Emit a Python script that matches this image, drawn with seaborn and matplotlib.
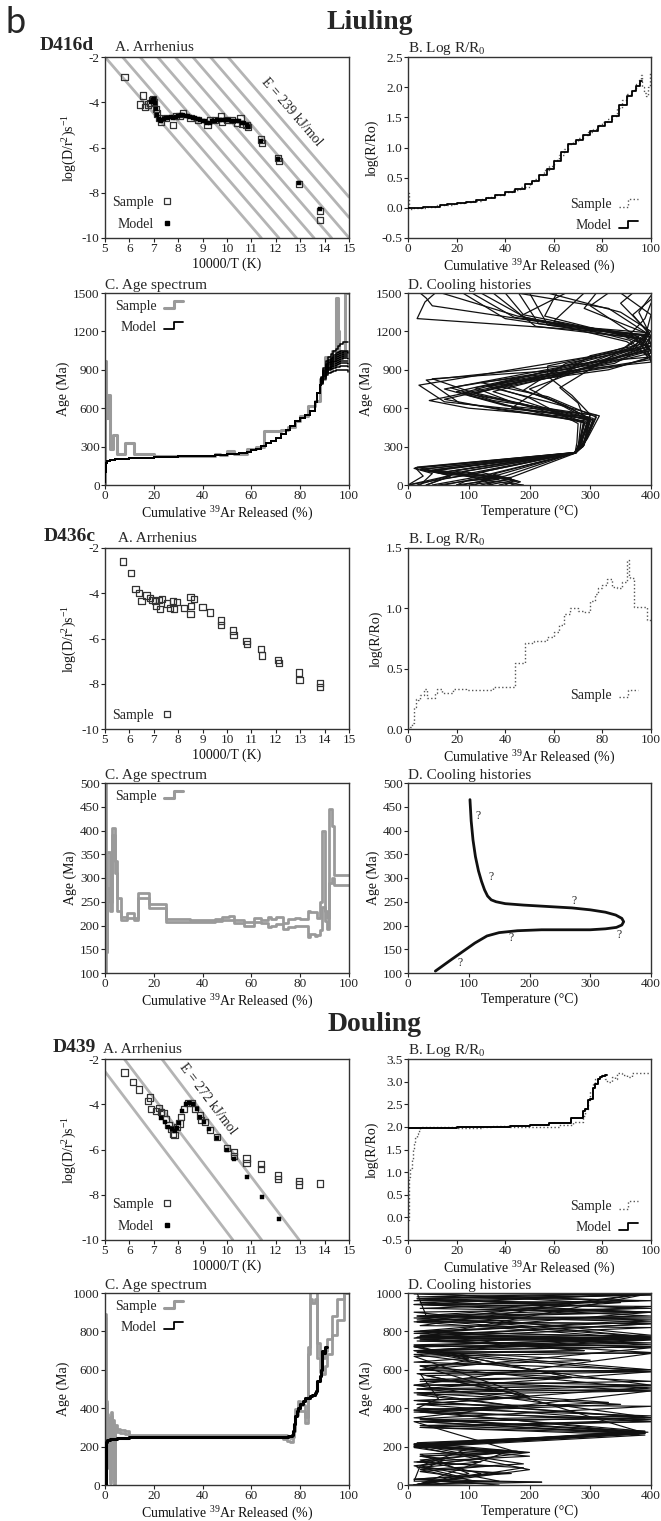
import numpy as np
import pandas as pd
import matplotlib
matplotlib.use("Agg")
import matplotlib.pyplot as plt
from matplotlib.lines import Line2D
from matplotlib.legend_handler import HandlerBase
import seaborn as sns

sns.set_theme(style="ticks")
plt.rcParams["font.family"] = ["Liberation Serif", "DejaVu Serif"]
plt.rcParams["mathtext.fontset"] = "custom"
plt.rcParams["mathtext.rm"] = "Liberation Serif"
plt.rcParams["mathtext.it"] = "Liberation Serif:italic"
plt.rcParams["mathtext.bf"] = "Liberation Serif:bold"
plt.rcParams["axes.unicode_minus"] = False

# ---------------------------------------------------------------- data
# D416d  A. Arrhenius
a416_sx = [5.8, 6.45, 6.55, 6.65, 6.75, 6.85, 6.92, 6.98, 7.02, 7.08, 7.12, 7.2, 7.3, 7.5, 7.8, 7.9, 8.05, 8.2, 8.5, 8.8,
           9.2, 9.3, 9.5, 9.75, 9.8, 10.0, 10.2, 10.4, 10.55, 10.6, 10.8, 10.85, 11.4, 11.42, 12.1, 12.12, 12.95, 13.8, 13.82]
a416_sy = [-2.9, -4.1, -3.7, -4.2, -4.1, -4.05, -3.9, -3.85, -4.0, -4.3, -4.5, -4.7, -4.85, -4.7, -5.0, -4.6, -4.6, -4.5, -4.7, -4.8,
           -5.0, -4.8, -4.8, -4.6, -4.85, -4.8, -4.8, -4.9, -4.7, -4.95, -5.0, -5.1, -5.65, -5.8, -6.45, -6.6, -7.6, -8.8, -9.2]
a416_mx = [6.9, 6.95, 7.0, 7.05, 7.1, 7.15, 7.2, 7.25, 7.3, 7.4, 7.5, 7.6, 7.7, 7.8, 7.9, 8.0, 8.1, 8.2, 8.3, 8.4,
           8.5, 8.6, 8.7, 8.8, 8.9, 9.0, 9.1, 9.2, 9.3, 9.4, 9.5, 9.6, 9.7, 9.8, 9.9, 10.0, 10.1, 10.2, 10.3, 10.4,
           10.5, 10.6, 10.7, 10.8, 10.85, 11.4, 12.1, 12.95, 13.8]
a416_my = [-4.0, -3.9, -3.85, -4.05, -4.3, -4.55, -4.75, -4.8, -4.85, -4.75, -4.7, -4.7, -4.65, -4.7, -4.65, -4.6, -4.55, -4.55, -4.6, -4.6,
           -4.65, -4.7, -4.7, -4.75, -4.8, -4.85, -4.85, -4.9, -4.9, -4.85, -4.85, -4.8, -4.8, -4.8, -4.8, -4.8, -4.8, -4.85, -4.85, -4.85,
           -4.85, -4.9, -4.9, -5.0, -5.1, -5.7, -6.5, -7.55, -8.7]
a416_iso_xtop = [5.0, 5.72, 6.44, 7.16, 7.88, 8.6, 9.32, 10.04]   # 10000/T where each isopleth meets log = -2
a416_E = 239  # kJ/mol

# D416d  B. Log R/R0
b416_scum = [0, 0.3, 0.6, 2, 5, 8, 10, 12, 15, 18, 20, 23, 26, 30, 33, 36, 40, 43, 46, 50,
             52, 54, 56, 58, 60, 62, 64, 66, 68, 70, 72, 74, 76, 78, 80, 82, 84, 86, 88, 90,
             92, 94, 95, 95.8, 96.5, 97.2, 98, 98.8, 99.5]
b416_s = [0.25, 0.0, -0.02, -0.01, 0.0, 0.02, 0.02, 0.04, 0.05, 0.07, 0.08, 0.1, 0.12, 0.15, 0.18, 0.21, 0.26, 0.3, 0.35, 0.42,
          0.48, 0.55, 0.62, 0.7, 0.8, 0.88, 0.97, 1.05, 1.1, 1.15, 1.2, 1.25, 1.3, 1.37, 1.42, 1.47, 1.53, 1.65, 1.78, 1.88,
          1.95, 2.05, 2.12, 2.2, 2.0, 1.9, 1.85, 2.0, 2.25]
b416_mcum = [0, 3, 6, 10, 13, 16, 20, 24, 28, 32, 36, 40, 44, 48, 51, 54, 57, 60, 63, 66,
             69, 72, 75, 78, 81, 84, 87, 90, 92, 94, 95.5]
b416_m = [-0.01, 0.0, 0.01, 0.02, 0.04, 0.06, 0.08, 0.1, 0.13, 0.17, 0.21, 0.26, 0.32, 0.39, 0.45, 0.54, 0.65, 0.78, 0.92, 1.05,
          1.13, 1.2, 1.28, 1.36, 1.43, 1.52, 1.7, 1.85, 1.93, 2.02, 2.1]

# D416d  C. Age spectrum
c416_scum = [0, 0.15, 0.5, 1.2, 2.2, 3.2, 5.0, 8.0, 12.0, 20.0, 25.0, 45.0, 47.0, 50.0, 53.0, 58.0, 62.0, 65.0, 72.0, 75.0,
             78.0, 80.0, 83.0, 86.0, 88.0, 90.0, 92.0, 93.0, 94.5, 95.3, 96.0, 97.0, 98.5, 100.0]
c416_sage = [0, 970, 520, 700, 280, 390, 240, 330, 240, 230, 225, 245, 235, 265, 240, 280, 300, 420, 430, 455,
             500, 540, 620, 660, 830, 1000, 950, 1050, 1460, 1200, 1050, 1000, 1500, 1500]
c416_mcum = [0, 0.2, 0.5, 1, 2, 4, 7, 10, 15, 20, 25, 30, 35, 40, 45, 50, 55, 58, 60, 62,
             64, 66, 68, 70, 72, 74, 76, 78, 80, 82, 84, 86, 87, 88]
c416_mage = [20, 100, 170, 185, 195, 200, 205, 210, 214, 218, 221, 224, 227, 230, 234, 240, 250, 260, 270, 285,
             305, 325, 345, 370, 395, 430, 460, 500, 520, 545, 580, 650, 720, 780]
c416_tail_cum = [88.5, 89.5, 90.5, 91.5, 92.5, 93.5, 94.5, 95.5, 96.5, 97.5, 98.5, 99.5]
c416_tails = [
    [790, 830, 860, 875, 885, 890, 895, 898, 900, 900, 900, 885],
    [800, 845, 875, 895, 905, 915, 920, 925, 930, 930, 930, 920],
    [805, 850, 885, 905, 920, 930, 940, 945, 950, 950, 950, 945],
    [810, 860, 895, 915, 930, 945, 955, 960, 965, 970, 970, 965],
    [815, 870, 905, 925, 945, 960, 970, 978, 985, 990, 990, 985],
    [820, 875, 915, 940, 958, 972, 985, 995, 1000, 1005, 1010, 1005],
    [825, 885, 925, 950, 970, 985, 1000, 1010, 1018, 1022, 1025, 1020],
    [830, 890, 935, 962, 982, 1000, 1015, 1025, 1032, 1038, 1040, 1035],
    [835, 900, 945, 975, 995, 1012, 1028, 1038, 1045, 1050, 1050, 1045],
    [845, 915, 965, 1000, 1025, 1045, 1065, 1085, 1100, 1115, 1120, 1120],
]

# D416d  D. Cooling histories (temperature, age) paths
d416_paths = [
    ([45, 28, 15, 395, 372, 18, 60, 298, 285, 276, 12, 25, 0], [1500, 1430, 1300, 1175, 1060, 780, 650, 530, 330, 255, 135, 70, 0]),
    ([105, 175, 385, 400, 310, 30, 85, 292, 282, 275, 20, 70, 15], [1500, 1310, 1170, 1110, 960, 820, 640, 500, 320, 254, 120, 75, 0]),
    ([160, 190, 370, 398, 260, 40, 120, 300, 290, 275, 35, 110, 40], [1500, 1330, 1160, 1060, 900, 830, 700, 520, 310, 252, 105, 60, 0]),
    ([182, 215, 395, 360, 250, 60, 160, 310, 292, 274, 50, 150, 80], [1500, 1260, 1190, 1080, 920, 750, 620, 545, 340, 251, 95, 45, 0]),
    ([200, 230, 400, 390, 280, 80, 180, 305, 288, 276, 75, 165, 100], [1500, 1250, 1160, 1040, 940, 730, 600, 510, 300, 250, 110, 40, 0]),
    ([245, 225, 375, 400, 300, 100, 200, 295, 280, 275, 100, 175, 130], [1500, 1320, 1140, 1000, 960, 700, 580, 480, 290, 252, 90, 35, 0]),
    ([290, 240, 365, 400, 320, 110, 210, 300, 283, 274, 120, 180, 150], [1500, 1280, 1130, 980, 920, 720, 610, 500, 320, 251, 100, 30, 0]),
    ([330, 300, 380, 395, 330, 130, 230, 315, 295, 276, 140, 185, 170], [1500, 1400, 1150, 990, 900, 770, 650, 540, 360, 250, 85, 25, 0]),
    ([370, 350, 395, 380, 340, 150, 240, 300, 285, 275, 160, 120, 190], [1500, 1420, 1200, 1050, 950, 800, 660, 520, 330, 253, 70, 40, 0]),
    ([400, 380, 398, 385, 300, 170, 250, 290, 282, 276, 170, 90, 60], [1480, 1350, 1180, 1100, 1010, 600, 560, 490, 310, 250, 60, 30, 0]),
    ([400, 390, 360, 400, 260, 190, 260, 305, 288, 274, 10, 40, 20], [1420, 1300, 1150, 1080, 950, 740, 620, 500, 300, 252, 130, 90, 0]),
    ([120, 200, 390, 370, 230, 230, 270, 300, 290, 276, 25, 80, 0], [1500, 1290, 1170, 1070, 930, 850, 700, 550, 340, 250, 125, 85, 0]),
    ([20, 30, 40, 380, 350, 250, 280, 290, 282, 275, 40, 130, 110], [1500, 1460, 1400, 1160, 1050, 760, 640, 520, 330, 251, 115, 50, 0]),
    ([55, 180, 380, 395, 270, 60, 150, 285, 280, 274, 60, 140, 50], [1500, 1320, 1150, 1060, 890, 670, 590, 500, 290, 253, 100, 60, 0]),
    ([140, 210, 390, 400, 290, 35, 100, 300, 290, 276, 90, 170, 120], [1500, 1240, 1140, 1030, 910, 660, 600, 520, 320, 250, 105, 50, 0]),
    ([260, 185, 360, 400, 350, 130, 200, 280, 278, 275, 110, 60, 30], [1500, 1320, 1120, 1000, 930, 780, 680, 480, 330, 252, 90, 50, 0]),
    ([310, 290, 400, 390, 310, 90, 180, 295, 285, 274, 150, 100, 80], [1500, 1380, 1170, 1090, 990, 720, 640, 510, 300, 251, 80, 40, 0]),
    ([350, 400, 390, 400, 280, 120, 230, 310, 292, 276, 130, 175, 160], [1500, 1330, 1150, 960, 900, 800, 690, 530, 340, 250, 80, 35, 0]),
    ([400, 370, 395, 385, 330, 200, 250, 300, 288, 275, 30, 150, 90], [1450, 1330, 1190, 1070, 980, 750, 630, 500, 320, 252, 110, 60, 0]),
    ([230, 350, 400, 370, 250, 110, 170, 290, 280, 276, 45, 100, 0], [1500, 1350, 1200, 1080, 870, 760, 650, 490, 300, 250, 120, 80, 0]),
    ([180, 330, 395, 400, 300, 140, 220, 305, 290, 274, 15, 70, 30], [1500, 1380, 1180, 1090, 920, 730, 610, 520, 340, 253, 140, 70, 0]),
    ([90, 160, 385, 400, 330, 70, 140, 300, 285, 275, 80, 120, 140], [1500, 1300, 1140, 1050, 960, 760, 660, 550, 350, 251, 95, 45, 0]),
]

# D436c  A. Arrhenius
a436_sx = [5.75, 6.05, 6.25, 6.4, 6.5, 6.7, 6.85, 6.95, 7.05, 7.1, 7.2, 7.25, 7.35, 7.55, 7.65, 7.8, 7.82, 7.95, 8.25, 8.5,
           8.52, 8.5, 8.65, 9.0, 9.3, 9.75, 9.77, 10.25, 10.27, 10.8, 10.82, 11.4, 11.42, 12.1, 12.12, 12.95, 12.97, 13.8, 13.82]
a436_sy = [-2.6, -3.1, -3.8, -4.0, -4.35, -4.1, -4.2, -4.3, -4.35, -4.55, -4.3, -4.7, -4.25, -4.45, -4.65, -4.35, -4.7, -4.4, -4.65, -4.15,
           -4.55, -4.9, -4.25, -4.6, -4.85, -5.2, -5.4, -5.65, -5.85, -6.1, -6.25, -6.45, -6.75, -6.95, -7.1, -7.5, -7.85, -7.95, -8.15]

# D436c  B. Log R/R0
b436_scum = [0, 1, 1.5, 2.5, 3.2, 4, 5, 6.5, 8, 11, 12, 14, 18.5, 24, 35, 44, 48, 52, 57, 60,
             62, 64, 66.5, 70, 72, 75, 77, 78, 80, 82, 84, 86, 88, 90, 90.8, 91.5, 93, 98.5]
b436_s = [0.0, 0.02, 0.05, 0.18, 0.25, 0.24, 0.28, 0.33, 0.26, 0.3, 0.33, 0.3, 0.33, 0.32, 0.35, 0.55, 0.71, 0.73, 0.76, 0.8,
          0.86, 0.95, 1.0, 0.98, 0.97, 1.06, 1.12, 1.17, 1.19, 1.24, 1.18, 1.17, 1.22, 1.4, 1.27, 1.25, 1.01, 0.9]

# D436c  C. Age spectrum (upper / lower bounds of each step)
c436_cum = [0, 0.5, 1.0, 2.0, 3.0, 4.0, 5.0, 6.5, 9.0, 12.0, 13.5, 18.0, 25.0, 35.0, 45.0, 48.0, 51.0, 53.0, 57.0, 61.0,
            64.0, 67.0, 68.0, 70.0, 73.0, 75.0, 78.0, 80.0, 83.0, 84.0, 86.0, 87.0, 88.0, 89.0, 90.0, 91.0, 92.0, 93.0, 94.0]
c436_hi = [500, 145, 355, 250, 405, 335, 258, 217, 227, 215, 268, 245, 213, 211, 213, 217, 219, 212, 207, 215,
           211, 218, 213, 218, 206, 213, 215, 213, 230, 228, 228, 215, 250, 400, 230, 215, 445, 410, 307]
c436_lo = [100, 145, 280, 230, 390, 310, 230, 212, 215, 212, 258, 236, 208, 207, 209, 211, 212, 205, 198, 207,
           205, 197, 198, 203, 192, 197, 200, 198, 175, 182, 177, 180, 190, 240, 210, 192, 290, 300, 285]

# D436c  D. Cooling history
d436_T = [102, 104, 107, 111, 116, 121, 126, 131, 137, 145, 160, 190, 230, 270, 300, 325, 342, 352, 355, 352,
          343, 325, 300, 260, 220, 180, 150, 130, 110, 90, 70, 45]
d436_age = [465, 420, 380, 345, 315, 293, 275, 262, 254, 250, 246, 243, 240, 237, 233, 228, 222, 215, 208, 201,
            196, 193, 191, 191, 191, 189, 185, 178, 163, 145, 127, 104]
d436_qT = [115, 136, 273, 348, 170, 85]
d436_qage = [430, 303, 252, 181, 173, 120]

# D439  A. Arrhenius
a439_sx = [5.8, 6.15, 6.4, 6.75, 6.85, 6.9, 7.1, 7.2, 7.3, 7.4, 7.5, 7.6, 7.7, 7.8, 7.85, 7.95, 8.05, 8.1, 8.25, 8.4,
           8.55, 8.7, 8.9, 8.95, 9.1, 9.3, 9.6, 10.0, 10.3, 10.3, 10.8, 10.8, 11.4, 11.4, 12.1, 12.1, 12.95, 12.95, 13.8]
a439_sy = [-2.6, -3.0, -3.35, -3.85, -3.7, -4.2, -4.3, -4.15, -4.35, -4.4, -4.65, -4.9, -5.1, -5.3, -5.35, -5.0, -4.85, -4.55, -4.2, -3.95,
           -3.95, -4.2, -4.5, -4.7, -4.8, -5.15, -5.45, -5.95, -6.1, -6.3, -6.4, -6.6, -6.65, -6.85, -7.15, -7.3, -7.4, -7.55, -7.5]
a439_mx = [7.3, 7.45, 7.6, 7.75, 7.85, 7.95, 8.05, 8.15, 8.3, 8.45, 8.6, 8.75, 8.9, 9.05, 9.25, 9.6, 10.0, 10.3, 10.8, 11.45, 12.15]
a439_my = [-4.6, -4.8, -5.0, -5.1, -5.2, -5.05, -4.85, -4.3, -4.0, -3.95, -4.0, -4.2, -4.55, -4.8, -5.1, -5.5, -6.0, -6.4, -7.2, -8.1, -9.05]
a439_iso_xtop = [4.61, 5.79, 7.33]
a439_E = 272

# D439  B. Log R/R0
b439_scum = [0, 0.3, 0.6, 1, 1.5, 2, 2.5, 3, 3.5, 4, 5, 10, 20, 30, 35, 42, 50, 58, 62, 68,
             72, 73, 74, 75, 76, 77, 78, 80, 81, 82, 84, 85, 86, 88, 90, 92, 94]
b439_s = [-0.05, 0.5, 0.9, 1.1, 1.3, 1.5, 1.65, 1.75, 1.85, 1.9, 2.0, 2.0, 1.98, 2.0, 2.02, 2.0, 1.99, 2.0, 2.05, 2.1,
          2.25, 2.4, 2.6, 2.8, 2.95, 3.05, 3.1, 3.15, 3.05, 3.0, 3.1, 3.05, 3.2, 3.15, 3.1, 3.2, 3.2]
b439_mcum = [0, 10, 20, 30, 42, 50, 58, 67, 70, 72, 73, 74, 75, 76, 77, 78, 79, 80, 81]
b439_m = [1.98, 1.98, 1.99, 2.0, 2.02, 2.05, 2.08, 2.2, 2.2, 2.35, 2.4, 2.6, 2.62, 2.85, 2.95, 3.05, 3.1, 3.13, 3.15]

# D439  C. Age spectrum
c439_cum = [0, 0.2, 0.4, 0.6, 0.8, 1.0, 1.3, 1.6, 2.0, 2.4, 2.8, 3.2, 3.6, 4.2, 5.0, 6.0, 8.0, 10.0, 73.0, 74.5,
            76.0, 77.0, 77.5, 78.0, 79.0, 80.0, 82.0, 83.0, 84.0, 85.0, 86.0, 87.0, 88.0, 89.0, 90.0, 91.0, 93.0, 95.0, 98.0]
c439_age = [0, 880, 300, 430, 100, 360, 250, 340, 20, 370, 150, 330, 10, 300, 285, 280, 275, 258, 250, 240,
            235, 260, 290, 380, 420, 400, 340, 700, 1000, 980, 1000, 700, 630, 620, 660, 720, 830, 915, 1000]
c439_err = [0, 10, 10, 10, 10, 10, 10, 10, 10, 10, 10, 10, 10, 10, 8, 8, 8, 5, 8, 10,
            10, 10, 10, 15, 15, 15, 15, 20, 30, 30, 30, 40, 40, 40, 40, 40, 50, 55, 0]
c439_mcum = [0, 0.3, 0.6, 1, 2, 5, 10, 20, 40, 60, 75, 76.5, 77, 77.5, 78, 78.5, 79, 80, 81, 82,
             84, 85, 86, 86.5, 87, 88, 88.5, 89, 89.5, 90]
c439_mage = [0, 150, 225, 235, 240, 244, 248, 250, 251, 252, 253, 258, 280, 320, 360, 385, 400, 420, 440, 455,
             465, 470, 480, 490, 540, 570, 600, 700, 690, 720]

# D439  D. Cooling histories
d439_paths = [
    ([10, 400, 15, 400, 20, 400, 10, 400, 15, 300, 20, 390, 10, 190, 20, 120, 15, 170, 10, 220, 0],
     [1000, 998, 980, 960, 920, 900, 800, 770, 700, 650, 620, 270, 200, 170, 150, 120, 90, 60, 30, 15, 0]),
    ([400, 10, 380, 20, 400, 15, 400, 20, 290, 15, 400, 30, 200, 15, 400, 10, 170, 20, 100, 10],
     [1000, 995, 960, 940, 880, 860, 770, 760, 700, 690, 590, 570, 460, 440, 350, 330, 180, 160, 60, 0]),
    ([20, 400, 10, 350, 15, 400, 20, 400, 10, 270, 20, 400, 15, 180, 10, 390, 15, 200, 20, 10, 220],
     [1000, 990, 960, 950, 880, 850, 800, 730, 720, 560, 540, 520, 480, 410, 390, 270, 220, 170, 100, 20, 15]),
    ([15, 400, 20, 400, 10, 250, 20, 400, 15, 400, 10, 120, 20, 400, 10, 350, 20, 390, 10, 150, 15, 190, 10],
     [1000, 995, 950, 900, 870, 830, 800, 770, 750, 720, 700, 640, 620, 500, 480, 420, 380, 280, 210, 170, 120, 90, 0]),
    ([10, 400, 15, 380, 20, 400, 10, 400, 20, 100, 10, 400, 15, 200, 10, 390, 20, 380, 10, 180, 20, 60, 30, 150, 10, 150],
     [1000, 1000, 970, 920, 880, 860, 790, 760, 700, 660, 640, 600, 580, 460, 440, 350, 330, 265, 200, 175, 150, 130, 90, 60, 30, 0]),
    ([20, 400, 10, 400, 15, 400, 20, 290, 10, 400, 15, 330, 10, 400, 20, 390, 10, 180, 20, 120, 10],
     [1000, 1000, 940, 930, 850, 840, 780, 700, 680, 520, 500, 430, 380, 340, 300, 270, 210, 175, 130, 60, 0]),
    ([400, 15, 400, 10, 400, 20, 400, 10, 270, 20, 400, 15, 180, 10, 400, 20, 395, 15, 200, 10],
     [990, 970, 920, 900, 780, 770, 740, 720, 560, 550, 490, 470, 410, 390, 330, 310, 275, 200, 80, 0]),
    ([15, 30, 400, 10, 400, 20, 400, 10, 400, 20, 50, 15, 400, 20, 390, 10, 100, 20, 150, 10],
     [1000, 880, 870, 850, 760, 750, 720, 700, 600, 580, 450, 400, 360, 340, 280, 205, 190, 100, 20, 0]),
    ([10, 400, 20, 400, 15, 400, 10, 100, 20, 400, 10, 400, 20, 390, 15, 200, 10, 140, 20, 90, 10],
     [1000, 1000, 830, 820, 770, 760, 730, 650, 600, 540, 520, 350, 330, 268, 200, 150, 120, 100, 70, 40, 0]),
    ([20, 300, 10, 400, 15, 400, 20, 400, 10, 200, 15, 400, 20, 390, 10, 190, 20, 110, 15],
     [1000, 950, 940, 900, 880, 770, 760, 690, 670, 460, 420, 330, 300, 260, 195, 110, 80, 20, 0]),
    ([10, 400, 15, 400, 20, 400, 10, 400, 20, 400, 15, 400, 10, 390, 20, 130, 10, 90, 20],
     [1000, 1000, 850, 840, 775, 765, 725, 715, 600, 590, 500, 490, 350, 275, 205, 140, 100, 40, 0]),
    ([15, 400, 10, 400, 20, 400, 10, 400, 15, 400, 20, 385, 10, 160, 15],
     [1000, 998, 765, 755, 695, 685, 520, 510, 420, 410, 345, 272, 215, 170, 0]),
]

# ---------------------------------------------------------------- styling
SAMPLE_GRAY = "#9a9a9a"
ISO_GRAY = "#b4b4b4"
W, H = 661, 1521
fig = plt.figure(figsize=(W / 100, H / 100), dpi=100)
fig.patch.set_facecolor("white")


def make_ax(l, t, r, b):
    ax = fig.add_axes([l / W, 1 - b / H, (r - l) / W, (b - t) / H])
    ax.set_facecolor("white")
    for s in ax.spines.values():
        s.set_color("#333333")
        s.set_linewidth(1.0)
    ax.tick_params(direction="out", length=3, width=0.8, colors="#222222",
                   labelsize=9.5, pad=0.8, top=False, right=False)
    ax.grid(False)
    return ax


def finish(ax, xlim, xticks, ylim, yticks, ylabels, xlabel, ylabel):
    ax.set_xlim(*xlim)
    ax.set_ylim(*ylim)
    ax.set_xticks(xticks)
    ax.set_xticklabels([str(v) for v in xticks])
    ax.set_yticks(yticks)
    ax.set_yticklabels(ylabels)
    ax.set_xlabel(xlabel, fontsize=10, labelpad=1.5, color="#111111")
    ax.set_ylabel(ylabel, fontsize=10, labelpad=2, color="#111111")


def step_frame(edges, vals, end, unit=0):
    return pd.DataFrame({"x": list(edges) + [end], "y": list(vals) + [vals[-1]], "u": unit})


def draw_steps(ax, df, color, lw, ls="-", z=2):
    sns.lineplot(data=df, x="x", y="y", units="u", estimator=None, sort=False,
                 drawstyle="steps-post", color=color, lw=lw, ls=ls, ax=ax,
                 legend=False, zorder=z)


class StepHandler(HandlerBase):
    def create_artists(self, legend, orig_handle, xdescent, ydescent, width, height, fontsize, trans):
        x0, y0 = -xdescent, -ydescent
        xs = [x0, x0 + 0.5 * width, x0 + 0.5 * width, x0 + width]
        ys = [y0 + 0.15 * height, y0 + 0.15 * height, y0 + 0.9 * height, y0 + 0.9 * height]
        ln = Line2D(xs, ys, color=orig_handle.get_color(), lw=orig_handle.get_linewidth(),
                    ls=orig_handle.get_linestyle())
        ln.set_transform(trans)
        return [ln]


def step_legend(ax, entries, loc, anchor):
    hs, labs, hmap = [], [], {}
    for lab, col, lw, ls in entries:
        h = Line2D([], [], color=col, lw=lw, ls=ls)
        hs.append(h)
        labs.append(lab)
        hmap[h] = StepHandler()
    ax.legend(hs, labs, handler_map=hmap, loc=loc, bbox_to_anchor=anchor, markerfirst=False,
              frameon=False, fontsize=10, handlelength=1.4, handletextpad=0.5,
              labelspacing=0.6, borderaxespad=0.2, borderpad=0.2)


def arrhenius_legend(ax, with_model):
    hs = [Line2D([], [], ls="none", marker="s", ms=4.5, mfc="none", mec="#333333", mew=0.9)]
    labs = ["Sample"]
    if with_model:
        hs.append(Line2D([], [], ls="none", marker="s", ms=3.2, color="black"))
        labs.append("Model")
    ax.legend(hs, labs, loc="lower left", bbox_to_anchor=(0.0, 0.0), markerfirst=False,
              frameon=False, fontsize=10, handlelength=0.8, handletextpad=0.6,
              labelspacing=0.65, borderaxespad=0.3, borderpad=0.2)


def arrhenius(ax, sx, sy, mx=None, my=None, iso=None, E=None, elabel_xy=None):
    if iso is not None:
        slope = E * 1000.0 / (np.log(10) * 8.314 * 10000.0)
        for xt in iso:
            ax.axline((xt, -2.0), slope=-slope, color=ISO_GRAY, lw=2.0, zorder=1)
        ax.text(elabel_xy[0], elabel_xy[1], f"E = {E} kJ/mol", fontsize=10,
                rotation=np.degrees(np.arctan(-slope)), transform_rotates_text=True,
                rotation_mode="anchor", ha="center", va="center", zorder=3)
    sns.scatterplot(x=sx, y=sy, marker="s", s=20, facecolor="none", edgecolor="#333333",
                    linewidth=0.9, ax=ax, zorder=3, legend=False)
    if mx is not None:
        sns.scatterplot(x=mx, y=my, marker="s", s=12, color="black", edgecolor="black",
                        linewidth=0.3, ax=ax, zorder=4, legend=False)
    arrhenius_legend(ax, mx is not None)
    ticks = [-10, -8, -6, -4, -2]
    finish(ax, (5, 15), list(range(5, 16)), (-10, -2), ticks, [str(t) for t in ticks],
           "10000/T (K)", r"log(D/r$^2$)s$^{-1}$")


def paths_frame(paths):
    frames = []
    for i, (T, A) in enumerate(paths):
        frames.append(pd.DataFrame({"T": T, "age": A, "u": i}))
    return pd.concat(frames, ignore_index=True)


XL_CUM = r"Cumulative $^{39}$Ar Released (%)"

# pixel boxes of the panels (left, top, right, bottom)
LX = (105, 349)
RX = (408, 651)
rows = [(57, 238), (293, 485), (548, 729), (783, 973), (1059, 1240), (1293, 1485)]


def fig_text(x, y, s, **kw):
    fig.text(x / W, 1 - y / H, s, va="baseline", **kw)


# ---------------------------------------------------------------- headings
fig.text(6 / W, 1 - 33 / H, "b", fontsize=26, family=["Lato", "DejaVu Sans"], va="baseline")
fig_text(370, 29, "Liuling", fontsize=20, fontweight="bold", ha="center")
fig_text(375, 1031, "Douling", fontsize=20, fontweight="bold", ha="center")

# ================================================================ D416d
t, b = rows[0]
fig_text(40, t - 7, "D416d", fontsize=14, fontweight="bold")
fig_text(115, t - 6, "A. Arrhenius", fontsize=11)
ax = make_ax(LX[0], t, LX[1], b)
arrhenius(ax, a416_sx, a416_sy, a416_mx, a416_my, a416_iso_xtop, a416_E, (12.65, -4.45))

fig_text(RX[0], t - 5, "B. Log R/R$_0$", fontsize=11)
ax = make_ax(RX[0], t, RX[1], b)
draw_steps(ax, step_frame(b416_scum, b416_s, 100), "#555555", 1.0, ":", 2)
draw_steps(ax, step_frame(b416_mcum, b416_m, 96.2), "black", 1.3, "-", 3)
step_legend(ax, [("Sample", "#555555", 1.0, ":"), ("Model", "black", 1.3, "-")], "lower right", (0.97, 0.0))
yt = [-0.5, 0.0, 0.5, 1.0, 1.5, 2.0, 2.5]
finish(ax, (0, 100), list(range(0, 101, 20)), (-0.5, 2.5), yt, [f"{v:.1f}" for v in yt], XL_CUM, "log(R/Ro)")

t, b = rows[1]
fig_text(LX[0], t - 4, "C. Age spectrum", fontsize=11)
ax = make_ax(LX[0], t, LX[1], b)
draw_steps(ax, step_frame(c416_scum[:-1], c416_sage[:-1], c416_scum[-1]), SAMPLE_GRAY, 2.2, "-", 2)
model_frames = []
for i, tail in enumerate(c416_tails):
    model_frames.append(step_frame(c416_mcum + c416_tail_cum, c416_mage + tail, 99.6, i))
draw_steps(ax, pd.concat(model_frames, ignore_index=True), "black", 1.1, "-", 3)
step_legend(ax, [("Sample", SAMPLE_GRAY, 2.2, "-"), ("Model", "black", 1.3, "-")], "upper left", (0.02, 0.995))
yt = list(range(0, 1501, 300))
finish(ax, (0, 100), list(range(0, 101, 20)), (0, 1500), yt, [str(v) for v in yt], XL_CUM, "Age (Ma)")

fig_text(RX[0], t - 4, "D. Cooling histories", fontsize=11)
ax = make_ax(RX[0], t, RX[1], b)
sns.lineplot(data=paths_frame(d416_paths), x="T", y="age", units="u", estimator=None, sort=False,
             color="#111111", lw=0.9, ax=ax, legend=False)
finish(ax, (0, 400), [0, 100, 200, 300, 400], (0, 1500), yt, [str(v) for v in yt],
       "Temperature (°C)", "Age (Ma)")

# ================================================================ D436c
t, b = rows[2]
fig_text(44, t - 7, "D436c", fontsize=14, fontweight="bold")
fig_text(118, t - 6, "A. Arrhenius", fontsize=11)
ax = make_ax(LX[0], t, LX[1], b)
arrhenius(ax, a436_sx, a436_sy)

fig_text(RX[0], t - 5, "B. Log R/R$_0$", fontsize=11)
ax = make_ax(RX[0], t, RX[1], b)
draw_steps(ax, step_frame(b436_scum, b436_s, 100), "#555555", 1.0, ":", 2)
step_legend(ax, [("Sample", "#555555", 1.0, ":")], "lower right", (0.97, 0.12))
yt = [0.0, 0.5, 1.0, 1.5]
finish(ax, (0, 100), list(range(0, 101, 20)), (0, 1.5), yt, [f"{v:.1f}" for v in yt], XL_CUM, "log(R/Ro)")

t, b = rows[3]
fig_text(LX[0], t - 4, "C. Age spectrum", fontsize=11)
ax = make_ax(LX[0], t, LX[1], b)
draw_steps(ax, step_frame(c436_cum, c436_hi, 100, 0), SAMPLE_GRAY, 2.0, "-", 2)
draw_steps(ax, step_frame(c436_cum, c436_lo, 100, 1), SAMPLE_GRAY, 2.0, "-", 2)
step_legend(ax, [("Sample", SAMPLE_GRAY, 2.2, "-")], "upper left", (0.02, 0.995))
yt = list(range(100, 501, 50))
finish(ax, (0, 100), list(range(0, 101, 20)), (100, 500), yt, [str(v) for v in yt], XL_CUM, "Age (Ma)")

fig_text(RX[0], t - 4, "D. Cooling histories", fontsize=11)
ax = make_ax(RX[0], t, RX[1], b)
sns.lineplot(x=d436_T, y=d436_age, sort=False, estimator=None, color="#111111", lw=2.0, ax=ax)
for qx, qy in zip(d436_qT, d436_qage):
    ax.text(qx, qy, "?", fontsize=8.5, ha="center", va="center")
finish(ax, (0, 400), [0, 100, 200, 300, 400], (100, 500), yt, [str(v) for v in yt],
       "Temperature (°C)", "Age (Ma)")

# ================================================================ D439
t, b = rows[4]
fig_text(53, t - 7, "D439", fontsize=14, fontweight="bold")
fig_text(103, t - 6, "A. Arrhenius", fontsize=11)
ax = make_ax(LX[0], t, LX[1], b)
arrhenius(ax, a439_sx, a439_sy, a439_mx, a439_my, a439_iso_xtop, a439_E, (9.2, -3.75))

fig_text(RX[0], t - 5, "B. Log R/R$_0$", fontsize=11)
ax = make_ax(RX[0], t, RX[1], b)
draw_steps(ax, step_frame(b439_scum, b439_s, 100), "#555555", 1.0, ":", 2)
draw_steps(ax, step_frame(b439_mcum, b439_m, 82), "black", 1.4, "-", 3)
step_legend(ax, [("Sample", "#555555", 1.0, ":"), ("Model", "black", 1.3, "-")], "lower right", (0.97, 0.0))
yt = [-0.5, 0.0, 0.5, 1.0, 1.5, 2.0, 2.5, 3.0, 3.5]
finish(ax, (0, 100), list(range(0, 101, 20)), (-0.5, 3.5), yt, [f"{v:.1f}" for v in yt], XL_CUM, "log(R/Ro)")

t, b = rows[5]
fig_text(LX[0], t - 4, "C. Age spectrum", fontsize=11)
ax = make_ax(LX[0], t, LX[1], b)
hi439 = [a + e for a, e in zip(c439_age, c439_err)]
lo439 = [a - e for a, e in zip(c439_age, c439_err)]
draw_steps(ax, step_frame(c439_cum, hi439, 100, 0), SAMPLE_GRAY, 2.0, "-", 2)
draw_steps(ax, step_frame(c439_cum, lo439, 100, 1), SAMPLE_GRAY, 2.0, "-", 2)
draw_steps(ax, step_frame(c439_mcum, c439_mage, 90.8), "black", 2.2, "-", 3)
step_legend(ax, [("Sample", SAMPLE_GRAY, 2.2, "-"), ("Model", "black", 1.3, "-")], "upper left", (0.02, 0.995))
yt = list(range(0, 1001, 200))
finish(ax, (0, 100), list(range(0, 101, 20)), (0, 1000), yt, [str(v) for v in yt], XL_CUM, "Age (Ma)")

fig_text(RX[0], t - 4, "D. Cooling histories", fontsize=11)
ax = make_ax(RX[0], t, RX[1], b)
sns.lineplot(data=paths_frame(d439_paths), x="T", y="age", units="u", estimator=None, sort=False,
             color="#111111", lw=0.85, ax=ax, legend=False)
finish(ax, (0, 400), [0, 100, 200, 300, 400], (0, 1000), yt, [str(v) for v in yt],
       "Temperature (°C)", "Age (Ma)")

fig.savefig("out.png", dpi=100)
